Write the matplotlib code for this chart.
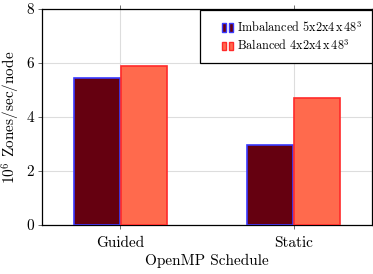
import matplotlib
matplotlib.use("Agg")
import matplotlib.pyplot as plt
from matplotlib.patches import Rectangle
from matplotlib.legend_handler import HandlerBase
import numpy as np

plt.rcParams['font.family'] = ['cmr10', 'DejaVu Serif']
plt.rcParams['mathtext.fontset'] = 'cm'
plt.rcParams['axes.formatter.use_mathtext'] = True

categories = ["Guided", "Static"]
imbalanced = [5.45, 2.97]
balanced = [5.9, 4.7]
yticks = [0, 2, 4, 6, 8]
legend_labels = [r"Imbalanced 5x2x4$\,$x$\,48^3$", r"Balanced 4x2x4$\,$x$\,48^3$"]

fig = plt.figure(figsize=(3.73, 2.74), dpi=100)
ax = fig.add_axes([0.113, 0.179, 0.884, 0.789])

x = np.arange(len(categories))
w = 0.265
dark, dark_edge = "#650010", "#3a3aff"
light, light_edge = "#ff6a4d", "#ff2a2a"
b1 = ax.bar(x - w/2 - 0.003, imbalanced, w, color=dark, edgecolor=dark_edge, linewidth=1.2, zorder=3)
b2 = ax.bar(x + w/2 + 0.003, balanced, w, color=light, edgecolor=light_edge, linewidth=1.2, zorder=3)

ax.set_xlim(-0.45, 1.45)
ax.set_ylim(0, 8)
ax.set_xticks(x)
ax.set_xticklabels(categories, fontsize=11)
ax.set_yticks(yticks)
ax.set_yticklabels([str(t) for t in yticks], fontsize=11)
ax.grid(True, color="#dddddd", linewidth=0.8, zorder=0)
ax.tick_params(direction='out', length=3, width=0.6, color="#555555", top=True, right=True)
ax.tick_params(axis='x', pad=5)
ax.tick_params(axis='y', pad=3)
for s in ax.spines.values():
    s.set_linewidth(0.9)

ax.set_xlabel("OpenMP Schedule", fontsize=11, labelpad=3)
ax.set_ylabel(r"$10^6$ Zones/sec/node", fontsize=11, labelpad=3)


class TwoRect(HandlerBase):
    def create_artists(self, legend, orig, xdescent, ydescent, width, height, fontsize, trans):
        fc = orig.get_facecolor()
        ec = orig.get_edgecolor()
        rw, gap, rh = 3.2, 1.6, 6.0
        y0 = -ydescent + (height - rh) / 2
        xr = -xdescent + width
        arts = []
        for xs in (xr - 2 * rw - gap, xr - rw):
            r = Rectangle((xs, y0), rw, rh, facecolor=fc, edgecolor=ec, linewidth=1.0, transform=trans)
            arts.append(r)
        return arts


leg = ax.legend([b1.patches[0], b2.patches[0]], legend_labels,
                handler_map={matplotlib.patches.Rectangle: TwoRect()},
                loc='upper right', bbox_to_anchor=(0.479, 0.755, 0.521, 0.24), mode='expand',
                fontsize=8.8, handlelength=1.9, handleheight=1.0, handletextpad=0.3,
                fancybox=False, edgecolor='black', framealpha=1.0,
                borderpad=0.8, labelspacing=0.3, borderaxespad=0.0)
leg.get_frame().set_linewidth(0.9)

fig.savefig("out.png", dpi=100)
